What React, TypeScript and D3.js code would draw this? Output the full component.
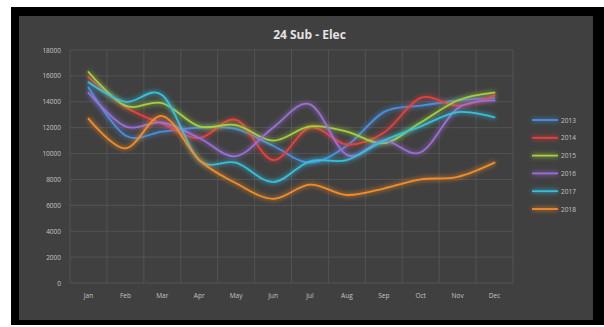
import * as d3 from 'd3';

// values
const months = ['Jan', 'Feb', 'Mar', 'Apr', 'May', 'Jun', 'Jul', 'Aug', 'Sep', 'Oct', 'Nov', 'Dec'];
const years = ['2013', '2014', '2015', '2016', '2017', '2018'];
const s2013 = [15100, 11400, 11700, 12000, 11900, 10600, 9300, 10600, 13200, 13700, 14100, 14300];
const s2014 = [15900, 13600, 12300, 11200, 12600, 9500, 12000, 10700, 11600, 14300, 13700, 14500];
const s2015 = [16300, 13700, 13900, 12100, 12200, 11000, 12100, 11700, 10800, 12400, 14100, 14700];
const s2016 = [14700, 12100, 12400, 11200, 9800, 12000, 13800, 9900, 11000, 10100, 13500, 14100];
const s2017 = [15500, 14000, 14500, 9500, 9300, 7800, 9400, 9500, 11000, 12100, 13200, 12800];
const s2018 = [12700, 10400, 12900, 9500, 7700, 6500, 7600, 6800, 7300, 8000, 8200, 9300];
const yTicks = [0, 2000, 4000, 6000, 8000, 10000, 12000, 14000, 16000, 18000];
const colors = ['#4a8fe0', '#e8403e', '#a4d03c', '#9b6fd6', '#34c0dc', '#f28c28'];

const allSeries = [s2013, s2014, s2015, s2016, s2017, s2018];

const W = 604;
const H = 327;
const plot = { left: 70, right: 513, top: 50, bottom: 283 };

export default function App() {
    const x = d3.scaleBand<string>().domain(months).range([plot.left, plot.right]);
    const y = d3.scaleLinear().domain([0, 18000]).range([plot.bottom, plot.top]);

    const line = d3
        .line<number>()
        .x((_, i) => (x(months[i]) as number) + x.bandwidth() / 2)
        .y((d) => y(d))
        .curve(d3.curveCardinal.tension(0));

    const font = "'Open Sans', 'DejaVu Sans', sans-serif";
    const bounds = [...months.map((m) => x(m) as number), plot.right];

    return (
        <div style={{ position: 'fixed', left: 0, top: 0 }}>
            <svg width={W} height={H} style={{ display: 'block' }}>
                <defs>
                    {/* userSpaceOnUse so flat legend lines keep their glow */}
                    <filter id="glow" filterUnits="userSpaceOnUse" x={0} y={0} width={W} height={H}>
                        <feGaussianBlur in="SourceGraphic" stdDeviation="2.4" result="blur" />
                        <feComponentTransfer in="blur" result="soft">
                            <feFuncA type="linear" slope="1.1" />
                        </feComponentTransfer>
                        <feMerge>
                            <feMergeNode in="soft" />
                            <feMergeNode in="SourceGraphic" />
                        </feMerge>
                    </filter>
                </defs>
                <rect x={0} y={0} width={W} height={H} fill="#ffffff" />
                <rect x={11} y={7} width={W - 11} height={318} fill="#000000" />
                <rect x={19} y={16} width={574} height={304} fill="#404040" />

                <text
                    x={(plot.left + plot.right) / 2 + 18}
                    y={39}
                    textAnchor="middle"
                    fill="#e2e2e2"
                    style={{ fontSize: '12px', fontWeight: 'bold', fontFamily: font }}
                >
                    24 Sub - Elec
                </text>

                {/* grid */}
                {yTicks.map((t) => (
                    <line key={`h${t}`} x1={plot.left} x2={plot.right} y1={y(t)} y2={y(t)} stroke="#585858" strokeWidth={0.8} />
                ))}
                {bounds.map((b, i) => (
                    <line key={`v${i}`} x1={b} x2={b} y1={plot.top} y2={plot.bottom} stroke="#585858" strokeWidth={0.8} />
                ))}

                {yTicks.map((t) => (
                    <text
                        key={`yl${t}`}
                        x={61}
                        y={y(t) + 2.5}
                        textAnchor="end"
                        fill="#c4c4c4"
                        style={{ fontSize: '6.5px', fontFamily: font }}
                    >
                        {t}
                    </text>
                ))}
                {months.map((m) => (
                    <text
                        key={`xl${m}`}
                        x={(x(m) as number) + x.bandwidth() / 2}
                        y={298}
                        textAnchor="middle"
                        fill="#c4c4c4"
                        style={{ fontSize: '6.5px', fontFamily: font }}
                    >
                        {m}
                    </text>
                ))}

                {allSeries.map((s, i) => (
                    <path
                        key={`s${i}`}
                        d={line(s) ?? ''}
                        fill="none"
                        stroke={colors[i]}
                        strokeWidth={1.8}
                        strokeLinecap="round"
                        filter="url(#glow)"
                    />
                ))}

                {/* legend */}
                {years.map((yr, i) => (
                    <g key={`lg${yr}`}>
                        <line
                            x1={532}
                            x2={558}
                            y1={120 + i * 17.8}
                            y2={120 + i * 17.8}
                            stroke={colors[i]}
                            strokeWidth={1.8}
                            filter="url(#glow)"
                        />
                        <text x={561} y={122.5 + i * 17.8} fill="#c4c4c4" style={{ fontSize: '6.5px', fontFamily: font }}>
                            {yr}
                        </text>
                    </g>
                ))}
            </svg>
        </div>
    );
}
